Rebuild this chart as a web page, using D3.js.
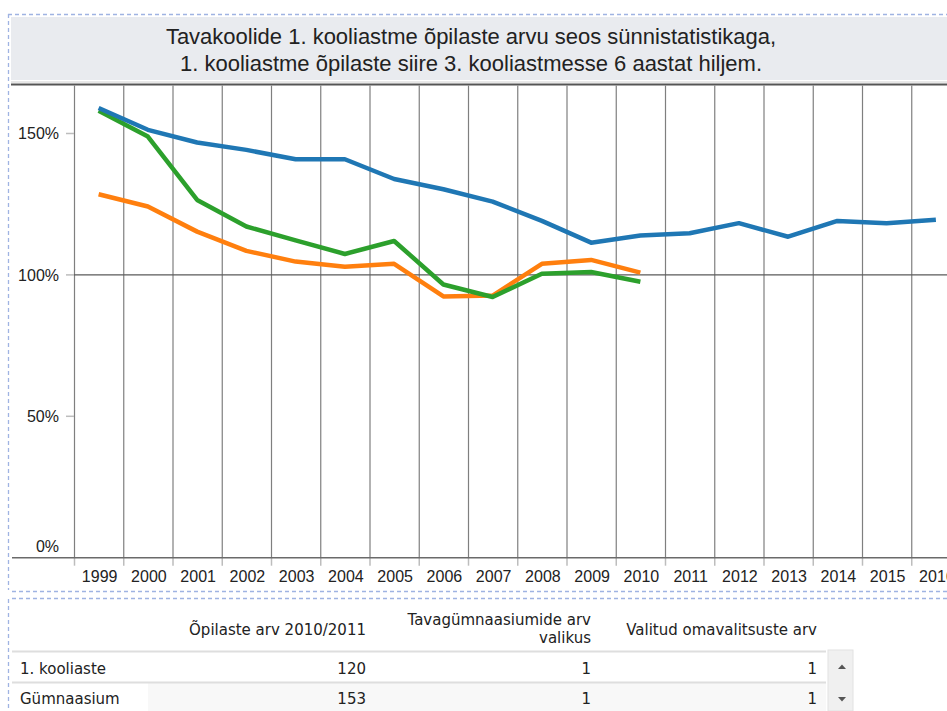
<!DOCTYPE html>
<html>
<head>
<meta charset="utf-8">
<script src="https://cdn.jsdelivr.net/npm/d3@7"></script>
<style>
  body { margin: 0; background: #fff; }
  svg { display: block; }
  .grid line { stroke: #7f7f7f; stroke-width: 1.2; }
  .tick-label { font-family: "Liberation Sans", Arial, sans-serif; font-size: 16px; fill: #222; }
  .title { font-family: "Liberation Sans", Arial, sans-serif; font-size: 22px; fill: #222; }
  .tbl { font-family: "DejaVu Sans", Verdana, sans-serif; font-size: 15px; fill: #222; }
  .series { fill: none; stroke-width: 4.5; stroke-linejoin: round; stroke-linecap: butt; }
</style>
</head>
<body>
<div id="chart"></div>
<script>

// ---------------- data ----------------

const years = ["1999", "2000", "2001", "2002", "2003", "2004", "2005", "2006", "2007",
               "2008", "2009", "2010", "2011", "2012", "2013", "2014", "2015", "2016"];

// values in %
const seriesBlue   = [159.0, 151.3, 146.8, 144.2, 140.9, 140.9, 133.9, 130.3, 125.9,
                      119.1, 111.4, 113.9, 114.7, 118.3, 113.5, 119.1, 118.3, 119.5];
const seriesOrange = [128.5, 124.2, 115.3, 108.5, 104.7, 102.9, 103.9, 92.4, 92.7,
                      103.9, 105.3, 100.8];
const seriesGreen  = [158.0, 148.9, 126.5, 117.1, 112.2, 107.4, 112.0, 96.6, 92.2,
                      100.4, 101.0, 97.6];

const yTicks = [0, 50, 100, 150];

const titleLines = [
    "Tavakoolide 1. kooliastme õpilaste arvu seos sünnistatistikaga,",
    "1. kooliastme õpilaste siire 3. kooliastmesse 6 aastat hiljem."
];

// table under the chart
const tableHeaders   = [["Õpilaste arv 2010/2011"], ["Tavagümnaasiumide arv", "valikus"], ["Valitud omavalitsuste arv"]];
const tableRowNames  = ["1. kooliaste", "Gümnaasium"];
const pupilCounts    = [120, 153];
const gymnasiumCount = [1, 1];
const municipalities = [1, 1];


// ---------------- setup ----------------

const width = 947, height = 711;

const svg = d3.select("#chart")
    .append("svg")
    .attr("width", width)
    .attr("height", height);

const xScale = d3.scaleBand()
    .domain(years)
    .range([74, 74 + years.length * 49.25]);

const yScale = d3.scaleLinear()
    .domain([0, 167.5])
    .range([557.7, 84]);

const dashColor = "#9fb3e2";

// dashed panel borders
function dash(x1, y1, x2, y2) {
    svg.append("line")
        .attr("x1", x1).attr("y1", y1).attr("x2", x2).attr("y2", y2)
        .attr("stroke", dashColor)
        .attr("stroke-width", 1.3)
        .attr("stroke-dasharray", "4,3");
}
dash(8, 14.5, width, 14.5);
dash(8.5, 14, 8.5, 590);
dash(12, 591.5, width, 591.5);
dash(12, 598.5, width, 598.5);
dash(8.5, 599, 8.5, height);

// header
svg.append("rect")
    .attr("x", 11).attr("y", 17)
    .attr("width", width - 11).attr("height", 63)
    .attr("fill", "#e9ebef");

svg.selectAll(".title")
    .data(titleLines)
    .enter()
    .append("text")
    .attr("class", "title")
    .attr("x", 471)
    .attr("y", (d, i) => 43.5 + i * 27)
    .attr("text-anchor", "middle")
    .text((d) => d);

svg.append("line")
    .attr("x1", 11).attr("x2", width)
    .attr("y1", 82).attr("y2", 82)
    .attr("stroke", "#d0d0d0").attr("stroke-width", 1);
svg.append("line")
    .attr("x1", 11).attr("x2", width)
    .attr("y1", 84.5).attr("y2", 84.5)
    .attr("stroke", "#555").attr("stroke-width", 2);


// ---------------- grid & axes ----------------

// vertical grid lines at band edges
svg.append("g")
    .attr("class", "grid")
    .selectAll("line")
    .data(years)
    .enter()
    .append("line")
    .attr("x1", (d) => xScale(d) + 0.5)
    .attr("x2", (d) => xScale(d) + 0.5)
    .attr("y1", 85.5)
    .attr("y2", yScale(0));

// x tick marks below the axis
svg.append("g")
    .selectAll("line")
    .data(years)
    .enter()
    .append("line")
    .attr("x1", (d) => xScale(d) + 0.5)
    .attr("x2", (d) => xScale(d) + 0.5)
    .attr("y1", yScale(0))
    .attr("y2", yScale(0) + 8)
    .attr("stroke", "#bdbdbd")
    .attr("stroke-width", 1.5);

// x labels centred in the band
svg.append("g")
    .selectAll("text")
    .data(years)
    .enter()
    .append("text")
    .attr("class", "tick-label")
    .attr("x", (d) => xScale(d) + xScale.bandwidth() / 2 + 1)
    .attr("y", 582)
    .attr("text-anchor", "middle")
    .text((d) => d);

// y ticks and labels
svg.append("g")
    .selectAll("line")
    .data(yTicks.filter((d) => d > 0))
    .enter()
    .append("line")
    .attr("x1", 66).attr("x2", 74)
    .attr("y1", (d) => yScale(d)).attr("y2", (d) => yScale(d))
    .attr("stroke", "#bdbdbd")
    .attr("stroke-width", 1.5);

svg.append("g")
    .selectAll("text")
    .data(yTicks)
    .enter()
    .append("text")
    .attr("class", "tick-label")
    .attr("x", 59)
    .attr("y", (d) => d === 0 ? yScale(d) - 6 : yScale(d) + 6)
    .attr("text-anchor", "end")
    .text((d) => d + "%");

// 100% reference line
svg.append("line")
    .attr("x1", 74).attr("x2", width)
    .attr("y1", yScale(100)).attr("y2", yScale(100))
    .attr("stroke", "#5a5a5a").attr("stroke-width", 1.3);

// x axis line
svg.append("line")
    .attr("x1", 12).attr("x2", width)
    .attr("y1", yScale(0)).attr("y2", yScale(0))
    .attr("stroke", "#6a6a6a").attr("stroke-width", 1.6);


// ---------------- series ----------------

const lineFunction = d3.line()
    .x((d, i) => xScale(years[i]) + xScale.bandwidth() / 2)
    .y((d) => yScale(d));

const series = [
    { values: seriesOrange, color: "#ff7f0e" },
    { values: seriesGreen,  color: "#2ca02c" },
    { values: seriesBlue,   color: "#1f77b4" }
];

svg.selectAll(".series")
    .data(series)
    .enter()
    .append("path")
    .attr("class", "series")
    .attr("stroke", (d) => d.color)
    .attr("d", (d) => lineFunction(d.values));


// ---------------- table ----------------

const colRight = [366, 591, 817];

svg.append("g")
    .selectAll("g")
    .data(tableHeaders)
    .enter()
    .each(function(lines, i) {
        const top = lines.length === 1 ? 635 : 624.5;
        d3.select(this).selectAll(null)
            .data(lines)
            .enter()
            .append("text")
            .attr("class", "tbl")
            .attr("x", colRight[i])
            .attr("y", (d, j) => top + j * 18)
            .attr("text-anchor", "end")
            .text((d) => d);
    });

// light background on second row
svg.append("rect")
    .attr("x", 148).attr("y", 683)
    .attr("width", 678).attr("height", height - 683)
    .attr("fill", "#f8f8f8");

// row separators
[651.5, 682.5].forEach((y) => {
    svg.append("line")
        .attr("x1", 12).attr("x2", 826)
        .attr("y1", y).attr("y2", y)
        .attr("stroke", "#dedede").attr("stroke-width", 2);
});

const rowY = [673.5, 703.5];

tableRowNames.forEach((name, i) => {
    svg.append("text").attr("class", "tbl")
        .attr("x", 20).attr("y", rowY[i]).text(name);
    [pupilCounts[i], gymnasiumCount[i], municipalities[i]].forEach((v, c) => {
        svg.append("text").attr("class", "tbl")
            .attr("x", colRight[c]).attr("y", rowY[i])
            .attr("text-anchor", "end")
            .text(v);
    });
});

// scrollbar
svg.append("rect")
    .attr("x", 828).attr("y", 650)
    .attr("width", 25).attr("height", height - 650)
    .attr("fill", "#f0f0f0")
    .attr("stroke", "#e2e2e2");

svg.append("path")
    .attr("d", "M838,669 L842,664.5 L846,669 Z")
    .attr("fill", "#555");
svg.append("path")
    .attr("d", "M838,697 L842,701.5 L846,697 Z")
    .attr("fill", "#555");

</script>
</body>
</html>
